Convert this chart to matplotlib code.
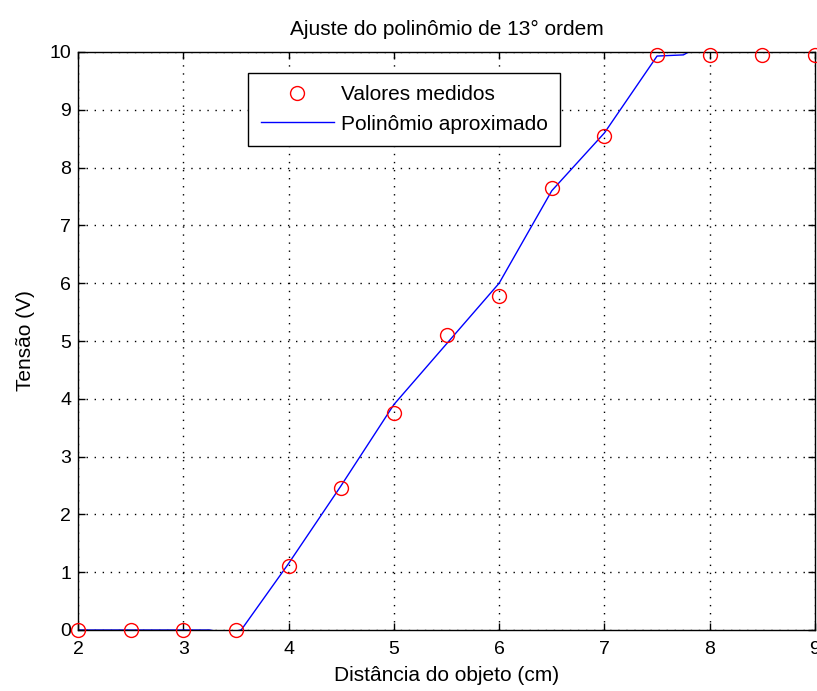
import matplotlib
matplotlib.use("Agg")
import matplotlib.pyplot as plt

# Data
meas_x = [2, 2.5, 3, 3.5, 4, 4.5, 5, 5.5, 6, 6.5, 7, 7.5, 8, 8.5, 9]
meas_y = [0, 0, 0, 0, 1.1, 2.45, 3.76, 5.1, 5.78, 7.65, 8.55, 9.95, 9.95, 9.95, 9.95]

poly_x = [2, 2.5, 3, 3.25, 3.4, 3.55, 4, 4.5, 5, 5.5, 6, 6.5, 7, 7.5, 7.75, 7.8, 8.5, 9]
poly_y = [0, 0, 0, 0, -0.05, 0, 1.15, 2.5, 3.9, 4.95, 6.0, 7.6, 8.6, 9.93, 9.95, 10.0, 10.0, 10.0]

x_ticks = [2, 3, 4, 5, 6, 7, 8, 9]
y_ticks = list(range(0, 11))

title = "Ajuste do polinômio de 13° ordem"
xlabel = "Distância do objeto (cm)"
ylabel = "Tensão (V)"
labels = ["Valores medidos", "Polinômio aproximado"]

plt.rcParams['font.family'] = ['Liberation Sans', 'DejaVu Sans']
fs = 15
tfs = 14

fig = plt.figure(figsize=(8.17, 6.91), dpi=100)
ax = fig.add_axes([78/817, 61/691, 737/817, 578/691])

ax.plot(meas_x, meas_y, 'o', mfc='none', mec='red', ms=10, mew=1.0, clip_on=False, zorder=3, label=labels[0])
ax.plot(poly_x, poly_y, '-', color='blue', lw=1.0, zorder=2, label=labels[1])

ax.set_xlim(2, 9)
ax.set_ylim(0, 10)
ax.set_xticks(x_ticks)
ax.set_yticks(y_ticks)
ax.grid(True, color='black', linestyle=(0, (1, 4.8)), linewidth=1.0)
ax.tick_params(direction='in', top=True, right=True, length=5, width=1, labelsize=tfs)
ax.tick_params(axis='x', pad=8)
ax.tick_params(axis='y', pad=5)
for s in ax.spines.values():
    s.set_linewidth(1.0)

ax.set_title(title, fontsize=fs, pad=12)
ax.set_xlabel(xlabel, fontsize=fs, labelpad=6)
ax.set_ylabel(ylabel, fontsize=fs, labelpad=10)

leg = ax.legend(loc='upper left', bbox_to_anchor=(0.231, 0.964), borderaxespad=0,
                fancybox=False, edgecolor='black', framealpha=1, fontsize=fs,
                handlelength=3.5, handletextpad=0.35, borderpad=0.6, labelspacing=0.5)
leg.get_frame().set_linewidth(1.0)

fig.savefig("out.png", dpi=100)
